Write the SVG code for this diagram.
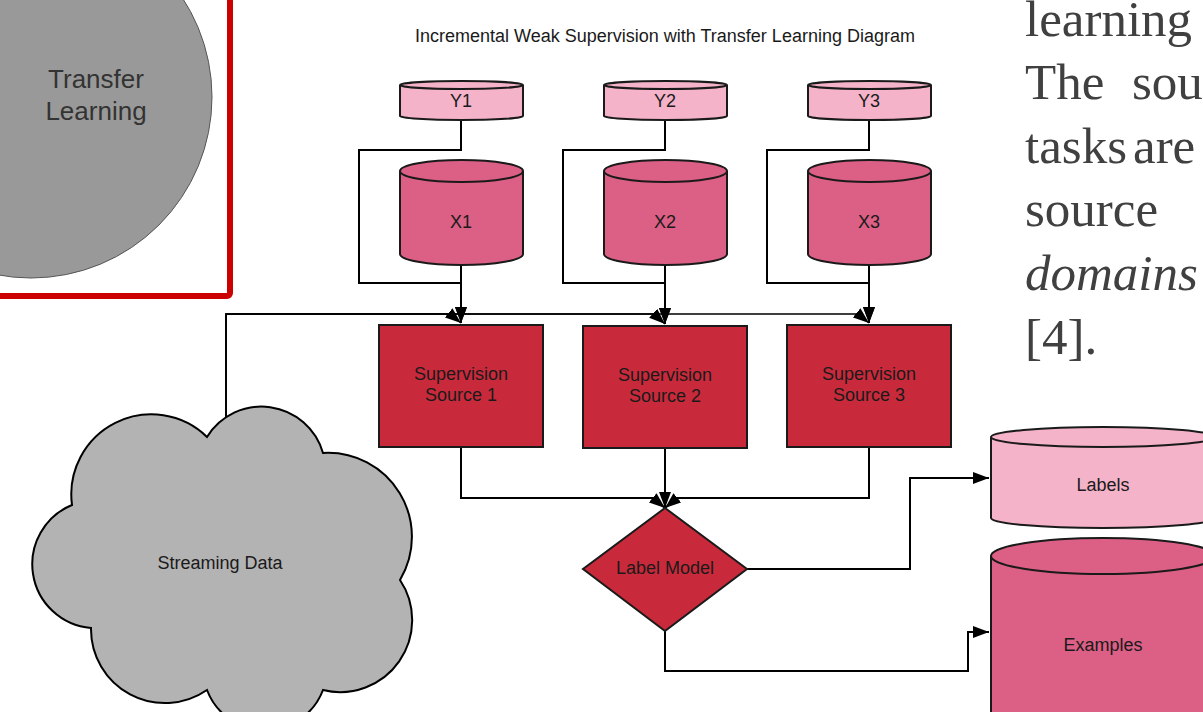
<svg xmlns="http://www.w3.org/2000/svg" width="1203" height="712" viewBox="0 0 1203 712">
<style>
.lbl{font-family:"Liberation Sans",Arial,sans-serif;font-size:18px;fill:#1a1a1a;text-anchor:middle}
.con{fill:none;stroke:#000;stroke-width:2}
.thin{fill:none;stroke:#000;stroke-width:1.5}
.lt{fill:#f4b3c8;stroke:#1a1a1a;stroke-width:2}
.dk{fill:#dc5f85;stroke:#1a1a1a;stroke-width:2}
.ss{fill:#c92a3b;stroke:#1a1a1a;stroke-width:2}
.body{font-family:"Liberation Serif","Times New Roman",serif;font-size:51px;fill:#404040}
</style>
<defs>
<marker id="arr" viewBox="0 0 16 12" refX="16" refY="6" markerWidth="16" markerHeight="12" markerUnits="userSpaceOnUse" orient="auto">
<path d="M0,0 L16,6 L0,12 Z" fill="#000"/>
</marker>
</defs>
<rect width="1203" height="712" fill="#fff"/>

<g id="transfer-learning">
<circle cx="31" cy="97" r="181" fill="#999999" stroke="#555" stroke-width="1"/>
<rect x="-20" y="-20" width="250" height="316" rx="3" fill="none" stroke="#cc0000" stroke-width="6"/>
<text x="96" y="88" font-family="Liberation Sans,Arial,sans-serif" font-size="26" fill="#333" text-anchor="middle">Transfer</text>
<text x="96" y="120" font-family="Liberation Sans,Arial,sans-serif" font-size="26" fill="#333" text-anchor="middle">Learning</text>
</g>

<g id="body-text" class="body">
<text x="1025" y="36">learning</text>
<text y="99"><tspan x="1025">The</tspan><tspan x="1132">sou</tspan></text>
<text y="163"><tspan x="1025">tasks</tspan><tspan x="1133">are</tspan></text>
<text x="1025" y="226">source</text>
<text x="1025" y="290" font-style="italic">domains</text>
<text x="1025" y="354">[4].</text>
</g>

<text id="title" class="lbl" x="665" y="42" font-size="18.3">Incremental Weak Supervision with Transfer Learning Diagram</text>

<g id="connectors">
<path class="con" d="M461,120 V150 H359 V283 H461 V323" marker-end="url(#arr)"/>
<path class="con" d="M461,265 V323" marker-end="url(#arr)"/>
<path class="con" d="M665,120 V150 H563 V283 H665 V324" marker-end="url(#arr)"/>
<path class="con" d="M665,265 V324" marker-end="url(#arr)"/>
<path class="con" d="M869,120 V150 H767 V283 H869 V323" marker-end="url(#arr)"/>
<path class="con" d="M869,265 V323" marker-end="url(#arr)"/>
<path class="thin" d="M226,425 V314 H450 L461,323" marker-end="url(#arr)"/>
<path class="thin" d="M226,425 V314 H654 L665,324" marker-end="url(#arr)"/>
<path class="thin" d="M226,425 V314 H858 L869,323" marker-end="url(#arr)"/>
<path class="con" d="M461,447 V498 H653 L665,508" marker-end="url(#arr)"/>
<path class="con" d="M665,448 V508" marker-end="url(#arr)"/>
<path class="con" d="M869,447 V498 H677 L665,508" marker-end="url(#arr)"/>
<path class="con" d="M747,569 H910 V478 H989" marker-end="url(#arr)"/>
<path class="con" d="M665,631 V671 H968 V632 H989" marker-end="url(#arr)"/>
</g>

<g id="y1">
<path class="lt" d="M400,85 V116 A61.5,4 0 0 0 523,116 V85"/>
<ellipse class="lt" cx="461.5" cy="85" rx="61.5" ry="4"/>
<text class="lbl" x="461" y="107">Y1</text>
</g>
<g id="y2">
<path class="lt" d="M604,85 V116 A61.5,4 0 0 0 727,116 V85"/>
<ellipse class="lt" cx="665.5" cy="85" rx="61.5" ry="4"/>
<text class="lbl" x="665" y="107">Y2</text>
</g>
<g id="y3">
<path class="lt" d="M808,85 V116 A61.5,4 0 0 0 931,116 V85"/>
<ellipse class="lt" cx="869.5" cy="85" rx="61.5" ry="4"/>
<text class="lbl" x="869" y="107">Y3</text>
</g>

<g id="x1">
<path class="dk" d="M400,171 V254 A61.5,11 0 0 0 523,254 V171"/>
<ellipse class="dk" cx="461.5" cy="171" rx="61.5" ry="11"/>
<text class="lbl" x="461" y="228">X1</text>
</g>
<g id="x2">
<path class="dk" d="M604,171 V254 A61.5,11 0 0 0 727,254 V171"/>
<ellipse class="dk" cx="665.5" cy="171" rx="61.5" ry="11"/>
<text class="lbl" x="665" y="228">X2</text>
</g>
<g id="x3">
<path class="dk" d="M808,171 V254 A61.5,11 0 0 0 931,254 V171"/>
<ellipse class="dk" cx="869.5" cy="171" rx="61.5" ry="11"/>
<text class="lbl" x="869" y="228">X3</text>
</g>

<g id="ss1">
<rect class="ss" x="379" y="325" width="164" height="122"/>
<text class="lbl" x="461" y="380">Supervision</text>
<text class="lbl" x="461" y="401">Source 1</text>
</g>
<g id="ss2">
<rect class="ss" x="583" y="326" width="164" height="122"/>
<text class="lbl" x="665" y="381">Supervision</text>
<text class="lbl" x="665" y="402">Source 2</text>
</g>
<g id="ss3">
<rect class="ss" x="787" y="325" width="164" height="122"/>
<text class="lbl" x="869" y="380">Supervision</text>
<text class="lbl" x="869" y="401">Source 3</text>
</g>

<g id="streaming-data">
<path d="M72,505 A80,80 0 0 1 207,437 A64,64 0 0 1 323,453 A84,84 0 0 1 400,580 A72,72 0 0 1 323,690 A62,62 0 0 1 207,690 A74,74 0 0 1 91,628 A64,64 0 0 1 72,505 Z" fill="#b3b3b3" stroke="#000" stroke-width="2"/>
<text class="lbl" x="220" y="569">Streaming Data</text>
</g>

<g id="label-model">
<polygon class="ss" points="665,508 747,569 665,631 583,569"/>
<text class="lbl" x="665" y="574">Label Model</text>
</g>

<g id="labels">
<path class="lt" d="M991,437 V518 A112,10 0 0 0 1215,518 V437"/>
<ellipse class="lt" cx="1103" cy="437" rx="112" ry="10"/>
<text class="lbl" x="1103" y="491">Labels</text>
</g>
<g id="examples">
<path class="dk" d="M991,556 V730 H1215 V556"/>
<ellipse class="dk" cx="1103" cy="556" rx="112" ry="18"/>
<text class="lbl" x="1103" y="651">Examples</text>
</g>
</svg>
